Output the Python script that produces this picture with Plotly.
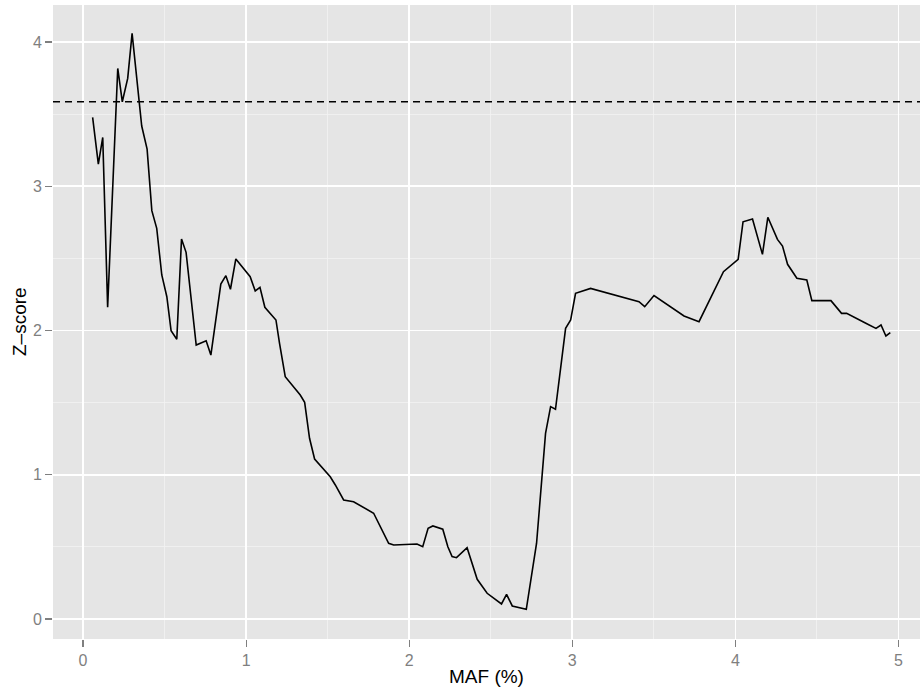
import plotly.graph_objects as go

maf = [0.059, 0.094, 0.121, 0.151, 0.213, 0.241, 0.274, 0.301, 0.360, 0.393,
       0.422, 0.452, 0.483, 0.514, 0.540, 0.575, 0.604, 0.632, 0.694, 0.755,
       0.784, 0.845, 0.876, 0.904, 0.937, 1.025, 1.056, 1.085, 1.115, 1.183,
       1.205, 1.240, 1.332, 1.359, 1.389, 1.420, 1.516, 1.547, 1.598, 1.659,
       1.782, 1.874, 1.905, 2.048, 2.083, 2.116, 2.145, 2.206, 2.237, 2.263,
       2.290, 2.355, 2.417, 2.478, 2.566, 2.597, 2.632, 2.718, 2.781, 2.836,
       2.867, 2.897, 2.959, 2.990, 3.020, 3.112, 3.409, 3.444, 3.501, 3.685,
       3.777, 3.927, 4.017, 4.047, 4.105, 4.166, 4.199, 4.258, 4.289, 4.320,
       4.377, 4.438, 4.469, 4.586, 4.651, 4.682, 4.800, 4.862, 4.893, 4.923,
       4.950]
zscore = [3.478, 3.154, 3.339, 2.161, 3.817, 3.586, 3.748, 4.060, 3.418, 3.258,
          2.831, 2.708, 2.385, 2.234, 1.999, 1.939, 2.634, 2.542, 1.899, 1.929,
          1.830, 2.322, 2.380, 2.286, 2.496, 2.373, 2.274, 2.299, 2.161, 2.073,
          1.911, 1.680, 1.553, 1.502, 1.253, 1.109, 0.986, 0.929, 0.825, 0.813,
          0.733, 0.525, 0.513, 0.520, 0.501, 0.629, 0.645, 0.622, 0.501, 0.432,
          0.425, 0.494, 0.275, 0.178, 0.104, 0.171, 0.090, 0.067, 0.525, 1.287,
          1.472, 1.454, 2.015, 2.073, 2.258, 2.292, 2.200, 2.165, 2.242, 2.101,
          2.061, 2.408, 2.493, 2.754, 2.773, 2.528, 2.785, 2.632, 2.586, 2.459,
          2.362, 2.350, 2.207, 2.207, 2.119, 2.119, 2.050, 2.015, 2.038, 1.962,
          1.985]
threshold = 3.586
x_ticks = [0, 1, 2, 3, 4, 5]
y_ticks = [0, 1, 2, 3, 4]
x_title = "MAF (%)"
y_title = "Z–score"

FONT = "Liberation Sans, Arial, Helvetica, sans-serif"

fig = go.Figure()
fig.add_trace(go.Scatter(x=maf, y=zscore, mode="lines",
                         line=dict(color="black", width=1.6),
                         showlegend=False, hoverinfo="skip"))
fig.add_shape(type="line", xref="paper", yref="y", x0=0, x1=1,
              y0=threshold, y1=threshold,
              line=dict(color="black", width=1.6, dash="7px,5px"))

axis_common = dict(
    showgrid=True, gridcolor="white", gridwidth=1.6,
    zeroline=False, showline=False,
    ticks="outside", ticklen=7, tickwidth=1.2, tickcolor="#7F7F7F",
    tickfont=dict(family=FONT, size=16, color="#7F7F7F"),
    minor=dict(dtick=0.5, showgrid=True, gridcolor="#F2F2F2", gridwidth=0.8, ticks=""),
)

fig.update_layout(
    width=923, height=693,
    margin=dict(l=53, r=3, t=5, b=54),
    paper_bgcolor="white", plot_bgcolor="#E5E5E5",
    font=dict(family=FONT, color="black"),
    xaxis=dict(range=[-0.184, 5.132], tickvals=x_ticks, ticktext=[str(v) for v in x_ticks],
               **axis_common),
    yaxis=dict(range=[-0.139, 4.257], tickvals=y_ticks, ticktext=[str(v) for v in y_ticks],
               **axis_common),
)

fig.add_annotation(text=x_title, xref="paper", yref="paper", x=0.5, y=0,
                   xanchor="center", yanchor="middle", yshift=-37, showarrow=False,
                   font=dict(family=FONT, size=19, color="black"))
fig.add_annotation(text=y_title, xref="paper", yref="paper", x=0, y=0.5,
                   xanchor="center", yanchor="middle", xshift=-34, textangle=-90,
                   showarrow=False, font=dict(family=FONT, size=19, color="black"))

fig.write_html("out.html",
               config={"displayModeBar": False, "staticPlot": True},
               post_script="document.body.style.margin='0';document.body.style.overflow='hidden';")
